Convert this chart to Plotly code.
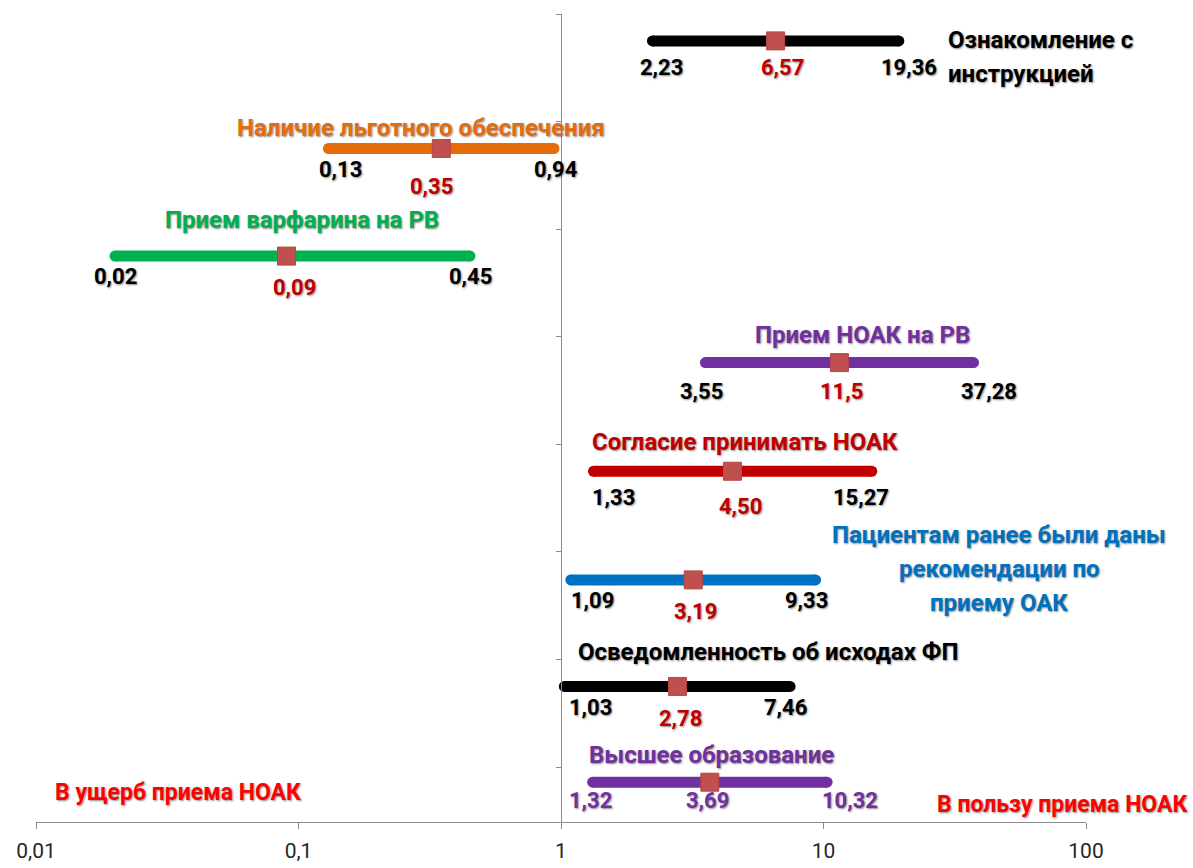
import math
import plotly.graph_objects as go

# Factors (top to bottom), odds ratios with 95% CI
FACTORS = [
    "Ознакомление с<br>инструкцией",
    "Наличие льготного обеспечения",
    "Прием варфарина на РВ",
    "Прием НОАК на РВ",
    "Согласие принимать НОАК",
    "Пациентам ранее были даны<br>рекомендации по<br>приему ОАК",
    "Осведомленность об исходах ФП",
    "Высшее образование",
]
OR_VALUES = [6.57, 0.35, 0.09, 11.5, 4.50, 3.19, 2.78, 3.69]
OR_DECIMALS = [2, 2, 2, 1, 2, 2, 2, 2]
CI_LOW = [2.23, 0.13, 0.02, 3.55, 1.33, 1.09, 1.03, 1.32]
CI_HIGH = [19.36, 0.94, 0.45, 37.28, 15.27, 9.33, 7.46, 10.32]

X_TICKS = [0.01, 0.1, 1, 10, 100]
X_TICK_TEXT = ["0,01", "0,1", "1", "10", "100"]

# Layout / style
ROW_Y = [7.26, 6.26, 5.26, 4.27, 3.26, 2.25, 1.26, 0.37]
BAR_COLORS = ["#000000", "#E46C0A", "#00B050", "#7030A0",
              "#C00000", "#0070C0", "#000000", "#7030A0"]
LABEL_COLORS = ["#000000"] * 7 + ["#7030A0"]
OR_LABEL_COLORS = ["#C00000"] * 7 + ["#7030A0"]

# name label anchors: (log10 x, y of first line, xanchor)
NAME_POS = [
    (1.467, 7.27, "left"),
    (-0.533, 6.45, "center"),
    (-0.987, 5.595, "center"),
    (1.147, 4.53, "center"),
    (0.701, 3.53, "center"),
    (1.669, 2.67, "center"),
    (0.789, 1.58, "center"),
    (0.575, 0.62, "center"),
]
LINE_STEP = 34  # px between lines of a multi-line name

# value label offsets in pixels (dx, dy)
LOW_DX = [9, 12, 0, -4, 20, 22, 26, -2]
LOW_DY = [27, 21, 20, 29, 26, 21, 21, 18]
OR_DX = [7, -10, 8, 2, 8, 2, 3, -2]
OR_DY = [27, 38, 31, 29, 35, 32, 32, 18]
HIGH_DX = [10, 2, 1, 15, -11, -9, -5, 23]
HIGH_DY = [27, 21, 20, 29, 26, 21, 21, 18]

FONT = "Roboto"
SHADOW = "1px 1px 2px rgba(0,0,0,0.45)"
AXIS_COLOR = "#8C8C8C"


def fmt(v, d=2):
    return f"{v:.{d}f}".replace(".", ",")


fig = go.Figure()

# confidence-interval bars with rounded ends
for lo, hi, y, c in zip(CI_LOW, CI_HIGH, ROW_Y, BAR_COLORS):
    fig.add_trace(go.Scatter(
        x=[lo, hi], y=[y, y], mode="lines+markers",
        line=dict(color=c, width=11),
        marker=dict(symbol="circle", size=11, color=c, line=dict(width=0)),
        hoverinfo="skip", showlegend=False,
    ))

# point estimates
fig.add_trace(go.Scatter(
    x=OR_VALUES, y=ROW_Y, mode="markers",
    marker=dict(symbol="square", size=18, color="#C0504D",
                line=dict(color="#B44845", width=1)),
    showlegend=False,
))

annotations = []
for i in range(len(FACTORS)):
    y = ROW_Y[i]
    for v, dx, dy, col, dec in (
        (CI_LOW[i], LOW_DX[i], LOW_DY[i], LABEL_COLORS[i], 2),
        (OR_VALUES[i], OR_DX[i], OR_DY[i], OR_LABEL_COLORS[i], OR_DECIMALS[i]),
        (CI_HIGH[i], HIGH_DX[i], HIGH_DY[i], LABEL_COLORS[i], 2),
    ):
        annotations.append(dict(
            x=math.log10(v), y=y, xref="x", yref="y",
            text=fmt(v, dec), showarrow=False,
            xshift=dx, yshift=-dy,
            font=dict(family=FONT, size=22, color=col, weight="bold", shadow=SHADOW),
        ))
    lx, ly, anc = NAME_POS[i]
    for j, line in enumerate(FACTORS[i].split("<br>")):
        annotations.append(dict(
            x=lx, y=ly, xref="x", yref="y", text=line, showarrow=False,
            xanchor=anc, yshift=-j * LINE_STEP,
            font=dict(family=FONT, size=24, color=BAR_COLORS[i], weight="bold",
                      shadow=SHADOW),
        ))

annotations.append(dict(
    x=-1.459, y=0.27, xref="x", yref="y", text="В ущерб приема НОАК",
    showarrow=False,
    font=dict(family=FONT, size=23, color="#FF0000", weight="bold", shadow=SHADOW),
))
annotations.append(dict(
    x=1.909, y=0.16, xref="x", yref="y", text="В пользу приема НОАК",
    showarrow=False,
    font=dict(family=FONT, size=23, color="#FF0000", weight="bold", shadow=SHADOW),
))

fig.update_layout(
    width=1193, height=868,
    margin=dict(l=36, r=107, t=14, b=46),
    paper_bgcolor="white", plot_bgcolor="white",
    annotations=annotations,
    xaxis=dict(
        type="log", range=[-2, 2],
        tickvals=X_TICKS, ticktext=X_TICK_TEXT,
        ticks="outside", ticklen=6, tickcolor=AXIS_COLOR,
        showline=True, linecolor=AXIS_COLOR, linewidth=1,
        showgrid=False, zeroline=False, automargin=False,
        ticklabelstandoff=4,
        tickfont=dict(family=FONT, size=21, color="#262626"),
    ),
    yaxis=dict(
        range=[0, 7.51],
        tickvals=[0.51 + k for k in range(8)],
        ticks="outside", ticklen=5, tickcolor=AXIS_COLOR,
        showticklabels=False, automargin=False,
        showline=True, linecolor=AXIS_COLOR, linewidth=1,
        showgrid=False, zeroline=False,
        anchor="free", position=0.5,
    ),
)

fig.write_html("out.html")
